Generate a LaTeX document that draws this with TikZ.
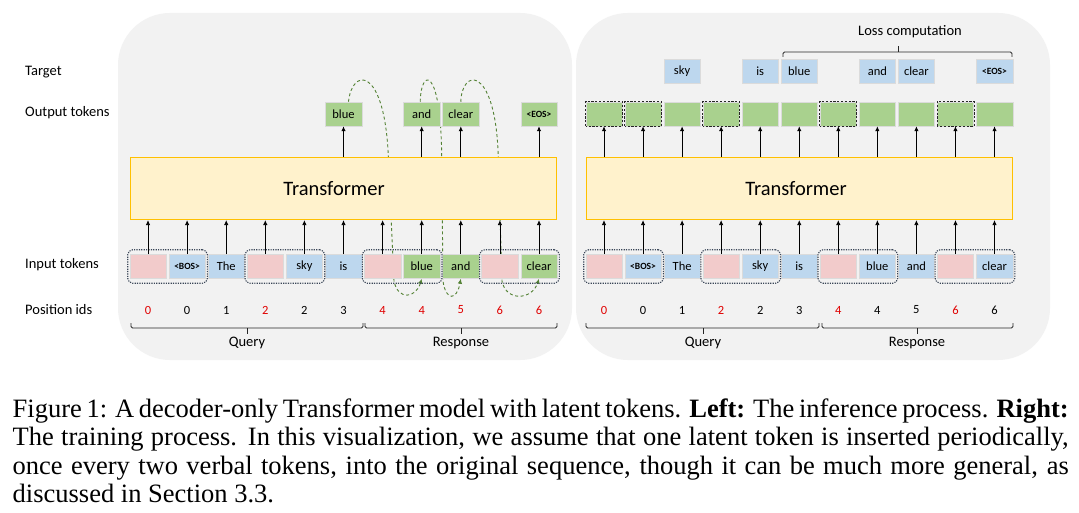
\documentclass[tikz,border=0pt]{standalone}
\usepackage{fontspec}
\setmainfont{Carlito}
\newfontfamily\capfont{Liberation Serif}
\usetikzlibrary{arrows.meta,calc,fit}
\pgfdeclarelayer{back}
\pgfdeclarelayer{mid}
\pgfsetlayers{back,mid,main}
\definecolor{panelgray}{HTML}{F2F2F2}
\definecolor{transfill}{HTML}{FFF2CC}
\definecolor{transdraw}{HTML}{FFC000}
\definecolor{latpink}{HTML}{F2CBCB}
\definecolor{tokblue}{HTML}{BDD7EE}
\definecolor{tokgreen}{HTML}{A9D18E}
\definecolor{dashgreen}{HTML}{548235}
\definecolor{groupline}{HTML}{3A4658}
\definecolor{idred}{HTML}{E00000}
\newcommand{\bostok}{{\bfseries\fontsize{9.5}{11}\selectfont <BOS>}}
\newcommand{\eostok}{{\bfseries\fontsize{9.5}{11}\selectfont <EOS>}}
\newcommand{\capline}[1]{\makebox[1056pt][s]{#1}}
\begin{document}
\begin{tikzpicture}[x=1pt,y=-1pt,
  tok/.style={minimum width=36.5pt, minimum height=24pt, inner sep=0pt,
    font=\fontsize{12.5}{14}\selectfont, draw=white!86!black, line width=0.5pt},
  latout/.style={draw=black!85, line width=0.8pt, dash pattern=on 2.2pt off 1.6pt},
  grp/.style={draw=groupline, line width=1.1pt, dash pattern=on 1.2pt off 1.2pt,
    rounded corners=5pt, inner xsep=1.8pt, inner ysep=4.5pt},
  trans/.style={fill=transfill, draw=transdraw, line width=1.2pt,
    minimum width=426pt, minimum height=62pt, inner sep=0pt},
  transtext/.style={inner sep=0pt, font=\fontsize{20.5}{24}\selectfont},
  arr/.style={-{Latex[length=5pt,width=4.5pt]}, line width=0.8pt, black},
  fb/.style={dashgreen, line width=0.9pt, dash pattern=on 3pt off 2.6pt,
    -{Latex[length=5pt,width=4.5pt]}},
  lbl/.style={anchor=west, inner sep=0pt, font=\fontsize{14.5}{16}\selectfont},
  sec/.style={inner sep=0pt, font=\fontsize{14.5}{16}\selectfont},
  pid/.style={inner sep=0pt, font=\fontsize{12.5}{14}\selectfont},
  brk/.style={line width=0.9pt, black!85, rounded corners=1.5pt},
  capt/.style={anchor=base west, inner sep=0pt,
    font=\capfont\fontsize{26.5}{28.5}\selectfont}]
\useasboundingbox (0,0) rectangle (1079,513);
\begin{pgfonlayer}{back}
  \fill[white] (0,0) rectangle (1079,513);
  \fill[panelgray, rounded corners=52pt] (118,13) rectangle (572,360);
  \fill[panelgray, rounded corners=52pt] (576,13) rectangle (1050,360);
\end{pgfonlayer}

% row labels
\node[lbl] (labT) at (25,72) {Target};
\node[lbl] (labO) at (25,113) {Output tokens};
\node[lbl] (labI) at (25,265) {Input tokens};
\node[lbl] (labP) at (25,310) {Position ids};

% ---------------- LEFT PANEL ----------------
\node[trans] (LT) at (343.5,188.5) {};
\node[transtext] (LTt) at (334,188.5) {Transformer};
\foreach \i/\t/\c in {0/{}/latpink,1/\bostok/tokblue,2/The/tokblue,3/{}/latpink,
  4/sky/tokblue,5/is/tokblue,6/{}/latpink,7/blue/tokgreen,8/and/tokgreen,
  9/{}/latpink,10/clear/tokgreen}
  \node[tok, fill=\c] (Lin\i) at ({148+39.1*\i},266.5) {\t};
\foreach \i/\n/\c in {0/0/idred,1/0/black,2/1/black,3/2/idred,4/2/black,5/3/black,
  6/4/idred,7/4/idred,8/5/idred,9/6/idred,10/6/idred}
  \node[pid, text=\c] (Lp\i) at ({148+39.1*\i},310) {\n};
\node[grp, fit=(Lin0)(Lin1)] (Lg0) {};
\node[grp, fit=(Lin3)(Lin4)] (Lg1) {};
\node[grp, fit=(Lin6)(Lin7)] (Lg2) {};
\node[grp, fit=(Lin9)(Lin10)] (Lg3) {};
\node[tok, fill=tokgreen] (Lo5) at ({148+39.1*5},114) {blue};
\node[tok, fill=tokgreen] (Lo7) at ({148+39.1*7},114) {and};
\node[tok, fill=tokgreen] (Lo8) at ({148+39.1*8},114) {clear};
\node[tok, fill=tokgreen] (Lo10) at ({148+39.1*10},114) {\eostok};
\foreach \i in {0,...,10}
  \draw[arr] (Lin\i.north) -- (Lin\i.north |- LT.south);
\foreach \i in {5,7,8,10}
  \draw[arr] (Lo\i.south |- LT.north) -- (Lo\i.south);
\begin{pgfonlayer}{mid}
  \draw[fb] ($(Lo5.north)+(5,0)$) .. controls (352,68) and (383,66) .. (388,150)
     -- (394,281) .. controls (398,301) and (416,298) .. (Lin7.south);
  \draw[fb] ($(Lo7.north)+(-1.5,0)$) .. controls (421,68) and (440,66) .. (441.6,150)
     -- (443,281) .. controls (446,302) and (457,300) .. (Lin8.south);
  \draw[fb] (Lo8.north) .. controls (462,68) and (494,66) .. (498,150)
     -- (502,281) .. controls (506,302) and (532,300) .. (Lin10.south);
\end{pgfonlayer}
\draw[brk] (131,323) -- (131,328) -- (363,328) -- (363,323);
\draw[brk] (247,328) -- (247,334);
\draw[brk] (365,323) -- (365,328) -- (557,328) -- (557,323);
\draw[brk] (461,328) -- (461,334);
\node[sec] (Lq) at (247,343) {Query};
\node[sec] (Lr) at (461,343) {Response};

% ---------------- RIGHT PANEL ----------------
\node[trans] (RT) at (799.5,188.5) {};
\node[transtext] (RTt) at (796,188.5) {Transformer};
\foreach \i/\t/\c in {0/{}/latpink,1/\bostok/tokblue,2/The/tokblue,3/{}/latpink,
  4/sky/tokblue,5/is/tokblue,6/{}/latpink,7/blue/tokblue,8/and/tokblue,
  9/{}/latpink,10/clear/tokblue}
  \node[tok, fill=\c] (Rin\i) at ({604+39.05*\i},266.5) {\t};
\foreach \i/\n/\c in {0/0/idred,1/0/black,2/1/black,3/2/idred,4/2/black,5/3/black,
  6/4/idred,7/4/black,8/5/black,9/6/idred,10/6/black}
  \node[pid, text=\c] (Rp\i) at ({604+39.05*\i},310) {\n};
\node[grp, fit=(Rin0)(Rin1)] (Rg0) {};
\node[grp, fit=(Rin3)(Rin4)] (Rg1) {};
\node[grp, fit=(Rin6)(Rin7)] (Rg2) {};
\node[grp, fit=(Rin9)(Rin10)] (Rg3) {};
\foreach \i in {0,...,10}
  \node[tok, fill=tokgreen] (Ro\i) at ({604+39.05*\i},114) {};
\foreach \i in {0,1,3,6,9}
  \draw[latout] (Ro\i.south west) rectangle (Ro\i.north east);
\node[tok, fill=tokblue] (Rt2) at ({604+39.05*2},71) {sky};
\node[tok, fill=tokblue] (Rt4) at ({604+39.05*4},71) {is};
\node[tok, fill=tokblue] (Rt5) at ({604+39.05*5},71) {blue};
\node[tok, fill=tokblue] (Rt7) at ({604+39.05*7},71) {and};
\node[tok, fill=tokblue] (Rt8) at ({604+39.05*8},71) {clear};
\node[tok, fill=tokblue] (Rt10) at ({604+39.05*10},71) {\eostok};
\foreach \i in {0,...,10}{
  \draw[arr] (Rin\i.north) -- (Rin\i.north |- RT.south);
  \draw[arr] (Ro\i.south |- RT.north) -- (Ro\i.south);
}
\draw[brk] (783,57) -- (783,52) -- (1012,52) -- (1012,57);
\draw[brk] (898,52) -- (898,46);
\node[sec] (Rloss) at (910,32) {Loss computation};
\draw[brk] (586,323) -- (586,328) -- (819,328) -- (819,323);
\draw[brk] (703,328) -- (703,334);
\draw[brk] (822,323) -- (822,328) -- (1013,328) -- (1013,323);
\draw[brk] (917,328) -- (917,334);
\node[sec] (Rq) at (703,343) {Query};
\node[sec] (Rr) at (917,343) {Response};

% ---------------- CAPTION ----------------
\node[capt] (cap1) at (12.5,417) {\capline{Figure 1: A decoder-only Transformer model with latent tokens. \textbf{Left:} The inference process. \textbf{Right:}}};
\node[capt] (cap2) at (12.5,445.5) {\capline{The training process. In this visualization, we assume that one latent token is inserted periodically,}};
\node[capt] (cap3) at (12.5,474) {\capline{once every two verbal tokens, into the original sequence, though it can be much more general, as}};
\node[capt] (cap4) at (12.5,502.5) {discussed in Section 3.3.};
\end{tikzpicture}
\end{document}
